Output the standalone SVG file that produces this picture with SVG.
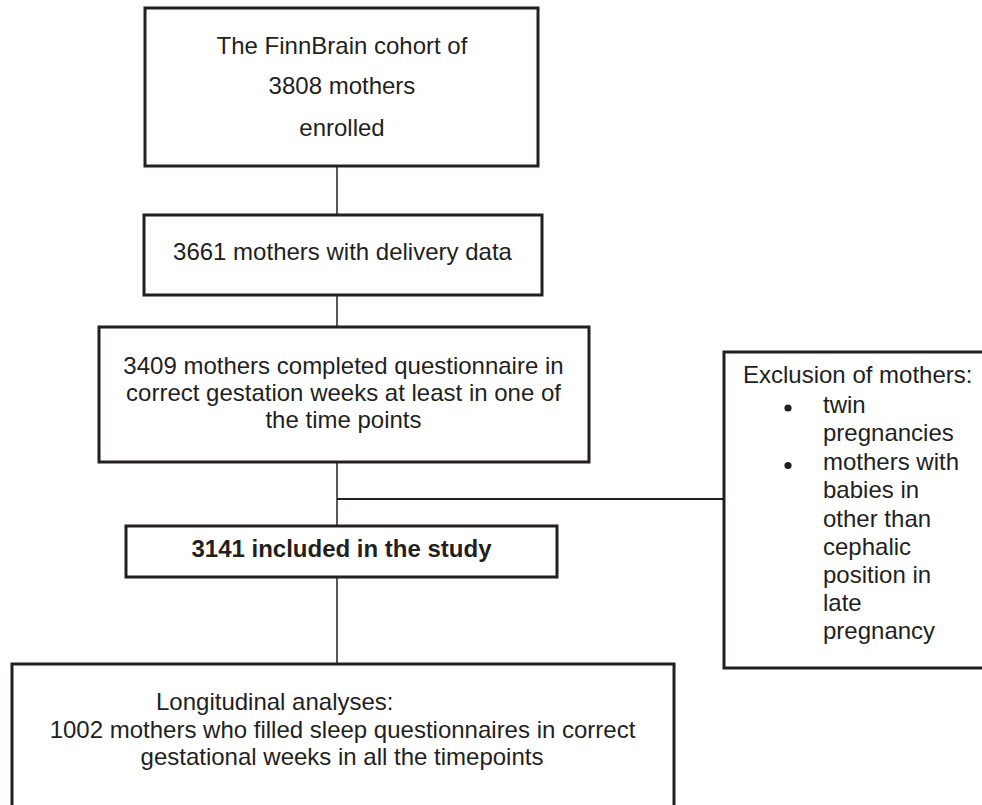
<svg xmlns="http://www.w3.org/2000/svg" width="982" height="805" viewBox="0 0 982 805">
<style>
.box{fill:#fff;stroke:#231f20;stroke-width:3}
.t{font-family:"Liberation Sans",Arial,sans-serif;font-size:24px;fill:#231f20}
.c{text-anchor:middle}
.b{font-weight:bold}
.ln{stroke:#231f20;stroke-width:1.5;fill:none}
.dot{fill:#231f20}
</style>
<rect width="982" height="805" fill="#fff"/>
<g id="connectors">
<line class="ln" x1="337" y1="166" x2="337" y2="215"/>
<line class="ln" x1="337" y1="295" x2="337" y2="327"/>
<line class="ln" x1="337" y1="462" x2="337" y2="526"/>
<line class="ln" x1="337" y1="577" x2="337" y2="664"/>
<line class="ln" x1="337" y1="499" x2="724" y2="499" style="stroke-width:2"/>
</g>
<g id="node-enrolled">
<rect class="box" x="145" y="8" width="393" height="158"/>
<text class="t c" x="342" y="54">The FinnBrain cohort of</text>
<text class="t c" x="342" y="94">3808 mothers</text>
<text class="t c" x="342" y="136">enrolled</text>
</g>
<g id="node-delivery">
<rect class="box" x="144" y="215" width="398" height="80"/>
<text class="t c" x="342.5" y="260">3661 mothers with delivery data</text>
</g>
<g id="node-questionnaire">
<rect class="box" x="99" y="327" width="490" height="135"/>
<text class="t c" x="343.5" y="374">3409 mothers completed questionnaire in</text>
<text class="t c" x="343.5" y="401">correct gestation weeks at least in one of</text>
<text class="t c" x="343.5" y="428">the time points</text>
</g>
<g id="node-exclusion">
<rect class="box" x="724" y="352" width="270" height="316"/>
<text class="t" x="743" y="383">Exclusion of mothers:</text>
<circle class="dot" cx="788" cy="408" r="3.6"/>
<circle class="dot" cx="788" cy="465.5" r="3.6"/>
<text class="t" x="823" y="413">twin</text>
<text class="t" x="823" y="441">pregnancies</text>
<text class="t" x="823" y="470">mothers with</text>
<text class="t" x="823" y="498">babies in</text>
<text class="t" x="823" y="527">other than</text>
<text class="t" x="823" y="555">cephalic</text>
<text class="t" x="823" y="583">position in</text>
<text class="t" x="823" y="611">late</text>
<text class="t" x="823" y="639">pregnancy</text>
</g>
<g id="node-included">
<rect class="box" x="126" y="526" width="431" height="51"/>
<text class="t c b" x="341.5" y="557">3141 included in the study</text>
</g>
<g id="node-longitudinal">
<rect class="box" x="12" y="664" width="662" height="160"/>
<text class="t" x="156" y="710">Longitudinal analyses:</text>
<text class="t c" x="342.5" y="738">1002 mothers who filled sleep questionnaires in correct</text>
<text class="t c" x="342" y="765">gestational weeks in all the timepoints</text>
</g>
</svg>
